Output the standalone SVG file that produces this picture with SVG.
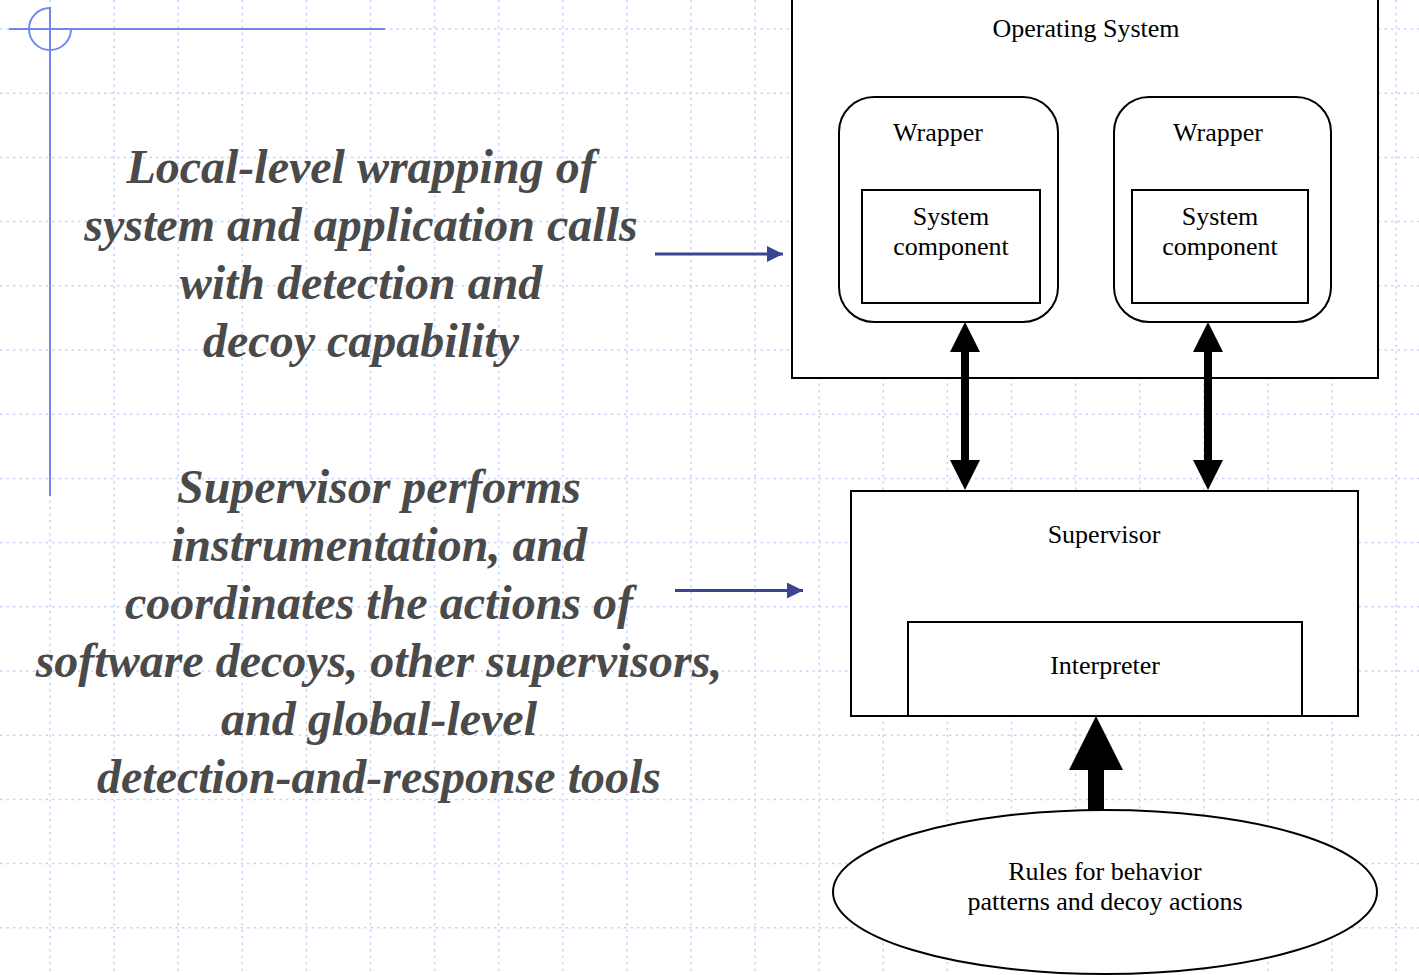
<svg xmlns="http://www.w3.org/2000/svg" width="1419" height="975" viewBox="0 0 1419 975">
  <style>
    .grid { fill: none; stroke: #c9d3fa; stroke-width: 1.5; stroke-dasharray: 2.5 4; }
    .guide { fill: none; stroke: #6f88ef; stroke-width: 2; }
    .box { fill: #ffffff; stroke: #000000; stroke-width: 2; }
    .lbl { font-family: "Liberation Serif", "Times New Roman", serif; font-size: 26px; fill: #000000; text-anchor: middle; }
    .note { font-family: "Liberation Serif", "Times New Roman", serif; font-size: 48px; font-weight: bold; font-style: italic; fill: #4a4a4a; text-anchor: middle; }
    .pointer { stroke: #3b4392; stroke-width: 3; fill: none; }
    .heavy { fill: #000000; stroke: none; }
  </style>
  <defs>
    <marker id="tri" viewBox="0 0 16 16" refX="16" refY="8" markerWidth="16" markerHeight="16" markerUnits="userSpaceOnUse" orient="auto">
      <path d="M0,0 L16,8 L0,16 Z" fill="#3b4392"/>
    </marker>
  </defs>

  <rect x="0" y="0" width="1419" height="975" fill="#ffffff"/>

  <!-- dotted background grid -->
  <g id="grid">
    <path class="grid" d="M50,0V975 M114.1,0V975 M178.2,0V975 M242.3,0V975 M306.4,0V975 M370.5,0V975 M434.6,0V975 M498.7,0V975 M562.8,0V975 M626.9,0V975 M691,0V975 M755.1,0V975 M819.2,0V975 M883.3,0V975 M947.4,0V975 M1011.5,0V975 M1075.6,0V975 M1139.7,0V975 M1203.8,0V975 M1267.9,0V975 M1332,0V975 M1396.1,0V975"/>
    <path class="grid" d="M0,29H1419 M0,93.2H1419 M0,157.4H1419 M0,221.6H1419 M0,285.8H1419 M0,350H1419 M0,414.2H1419 M0,478.4H1419 M0,542.6H1419 M0,606.8H1419 M0,671H1419 M0,735.2H1419 M0,799.4H1419 M0,863.6H1419 M0,927.8H1419"/>
  </g>

  <!-- corner guide with partial circle -->
  <g id="guide">
    <line class="guide" x1="9" y1="29" x2="385" y2="29"/>
    <line class="guide" x1="50" y1="7" x2="50" y2="496"/>
    <path class="guide" d="M50,8 A21,21 0 1 0 71,29"/>
  </g>

  <!-- explanatory notes -->
  <g id="note-wrapping">
    <text class="note" x="361" y="183">Local-level wrapping of</text>
    <text class="note" x="361" y="241">system and application calls</text>
    <text class="note" x="361" y="299">with detection and</text>
    <text class="note" x="361" y="357">decoy capability</text>
  </g>
  <g id="note-supervisor">
    <text class="note" x="379" y="503">Supervisor performs</text>
    <text class="note" x="379" y="561">instrumentation, and</text>
    <text class="note" x="379" y="619">coordinates the actions of</text>
    <text class="note" x="379" y="677">software decoys, other supervisors,</text>
    <text class="note" x="379" y="735">and global-level</text>
    <text class="note" x="379" y="793">detection-and-response tools</text>
  </g>

  <!-- operating system with wrapped components -->
  <g id="operating-system">
    <rect class="box" x="792" y="-5" width="586" height="383"/>
    <text class="lbl" x="1086" y="37">Operating System</text>
  </g>
  <g id="wrapper-left">
    <rect class="box" x="839" y="97" width="219" height="225" rx="35" ry="35"/>
    <text class="lbl" x="938" y="141">Wrapper</text>
  </g>
  <g id="component-left">
    <rect class="box" x="862" y="190" width="178" height="113"/>
    <text class="lbl" x="951" y="225">System</text>
    <text class="lbl" x="951" y="255">component</text>
  </g>
  <g id="wrapper-right">
    <rect class="box" x="1114" y="97" width="217" height="225" rx="35" ry="35"/>
    <text class="lbl" x="1218" y="141">Wrapper</text>
  </g>
  <g id="component-right">
    <rect class="box" x="1132" y="190" width="176" height="113"/>
    <text class="lbl" x="1220" y="225">System</text>
    <text class="lbl" x="1220" y="255">component</text>
  </g>

  <!-- supervisor and interpreter -->
  <g id="supervisor">
    <rect class="box" x="851" y="491" width="507" height="225"/>
    <text class="lbl" x="1104" y="543">Supervisor</text>
  </g>
  <g id="interpreter">
    <rect class="box" x="908" y="622" width="394" height="94"/>
    <text class="lbl" x="1105" y="674">Interpreter</text>
  </g>

  <!-- connectors -->
  <g id="connectors">
    <line class="pointer" x1="655" y1="254" x2="783" y2="254" marker-end="url(#tri)"/>
    <line class="pointer" x1="675" y1="590.5" x2="803" y2="590.5" marker-end="url(#tri)"/>
    <polygon class="heavy" points="965,322 980,352 969,352 969,460 980,460 965,490 950,460 961,460 961,352 950,352"/>
    <polygon class="heavy" points="1208,322 1223,352 1212,352 1212,460 1223,460 1208,490 1193,460 1204,460 1204,352 1193,352"/>
    <polygon class="heavy" points="1096,716 1123,770 1104,770 1104,815 1088,815 1088,770 1069,770"/>
  </g>

  <!-- rule base -->
  <g id="rules">
    <ellipse class="box" cx="1105" cy="892" rx="272" ry="82"/>
    <text class="lbl" x="1105" y="880">Rules for behavior</text>
    <text class="lbl" x="1105" y="910">patterns and decoy actions</text>
  </g>
</svg>
